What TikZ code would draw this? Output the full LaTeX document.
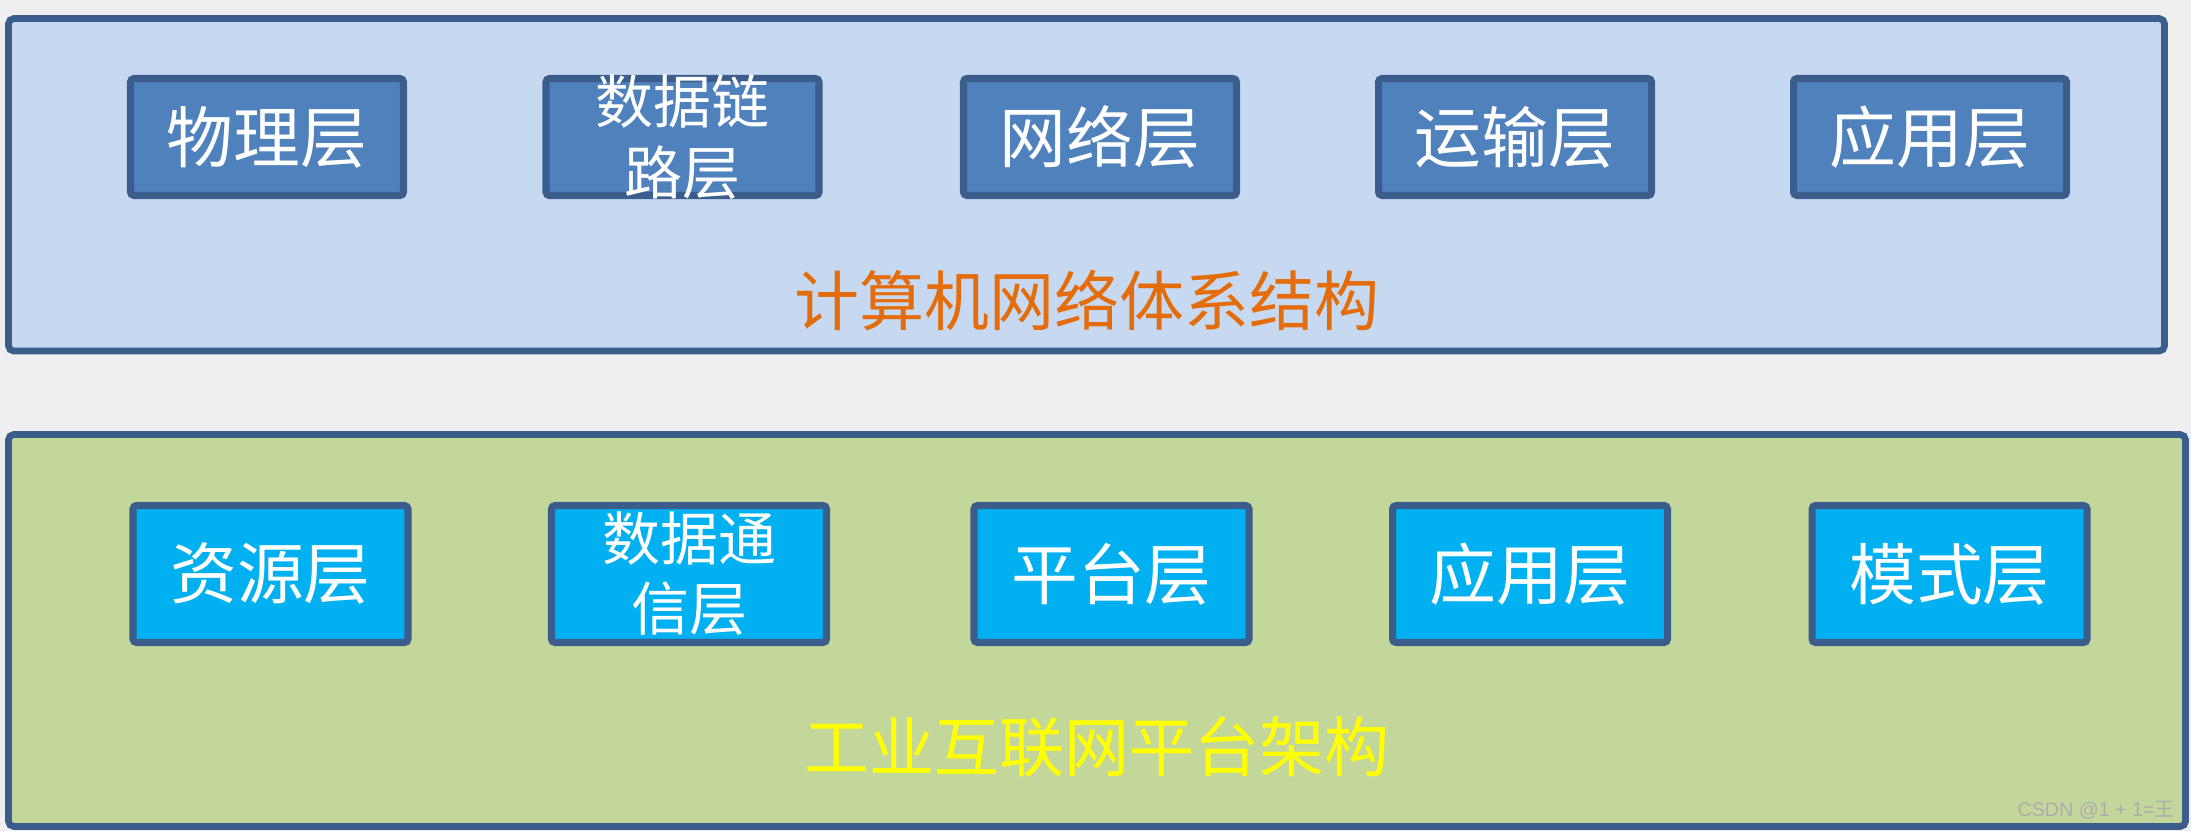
\documentclass[tikz,border=0pt]{standalone}
\usepackage{fontspec}
\setmainfont{Noto Sans CJK SC}
\newfontfamily\markfont{Liberation Sans}
\newfontfamily\markcjk{Noto Sans CJK SC}
\usetikzlibrary{arrows}
\definecolor{edgeblue}{HTML}{3A5D8B}
\definecolor{netback}{HTML}{C6D9F1}
\definecolor{netcell}{HTML}{4F81BD}
\definecolor{iiback}{HTML}{C4D79B}
\definecolor{iicell}{HTML}{00B0F0}
\definecolor{nettitle}{HTML}{E46C0A}
\definecolor{iititle}{HTML}{FFFF00}
\definecolor{slide}{HTML}{EFEFEF}
\tikzstyle{bigbox} = [draw=edgeblue, line width=1.9pt, rectangle, rounded corners=1.5pt, inner sep=0pt]
\tikzstyle{netlayer} = [draw=edgeblue, fill=netcell, line width=2pt, rectangle, rounded corners=1pt, inner sep=0pt, minimum width=2.73cm, minimum height=1.17cm, text=white, align=center, font=\fontsize{19}{23}\selectfont]
\tikzstyle{iilayer} = [netlayer, fill=iicell, minimum width=2.75cm, minimum height=1.37cm]
\tikzstyle{twoline} = [font=\fontsize{16.5}{20}\selectfont]
\tikzstyle{bigtitle} = [inner sep=0pt, font=\fontsize{18.5}{22}\selectfont]
\newcommand{\wmtxt}[1]{{\markfont #1}}

\begin{document}
\begin{tikzpicture}
\useasboundingbox[fill=slide] (0,0) rectangle (21.91,-8.31);
% computer network architecture
\node [bigbox, fill=netback, minimum width=21.56cm, minimum height=3.325cm] (net) at (10.865,-1.848) {};
\node [netlayer] (phy) at (2.67,-1.37) {物理层};
\node [netlayer, twoline, inner ysep=-2pt] (link) at (6.825,-1.37) {数据链\\路层};
\node [netlayer] (ip) at (11.00,-1.37) {网络层};
\node [netlayer] (trans) at (15.15,-1.37) {运输层};
\node [netlayer] (app) at (19.30,-1.37) {应用层};
\node [bigtitle, text=nettitle] (nettxt) at (10.87,-3.0) {计算机网络体系结构};

% industrial internet platform
\node [bigbox, fill=iiback, minimum width=21.77cm, minimum height=3.92cm] (ii) at (10.97,-6.305) {};
\node [iilayer] (res) at (2.705,-5.74) {资源层};
\node [iilayer, twoline] (comm) at (6.89,-5.74) {数据通\\信层};
\node [iilayer] (plat) at (11.115,-5.74) {平台层};
\node [iilayer] (iiapp) at (15.30,-5.74) {应用层};
\node [iilayer] (mode) at (19.495,-5.74) {模式层};
\node [bigtitle, text=iititle] (iitxt) at (10.97,-7.47) {工业互联网平台架构};

\node [text=gray!65, inner sep=0pt, anchor=south east, font=\fontsize{5.6}{7}\selectfont] (wm) at (21.75,-8.2) {\wmtxt{CSDN @1 + 1=}{\markcjk 王}};
\end{tikzpicture}
\end{document}
